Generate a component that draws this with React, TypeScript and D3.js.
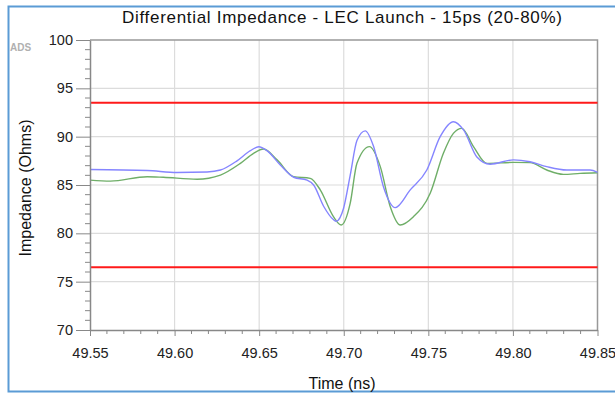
import React, { useEffect, useRef } from "react";
import * as d3 from "d3";

// Differential impedance TDR traces (time in ns, impedance in ohms)
const blueTrace: [number, number][] = [
  [49.55, 86.6], [49.5838, 86.5], [49.6015, 86.3], [49.6192, 86.35], [49.6271, 86.55],
  [49.6369, 87.5], [49.6448, 88.55], [49.6497, 88.95], [49.6546, 88.55], [49.6625, 87.07],
  [49.6704, 85.8], [49.6783, 85.5], [49.6822, 85.0], [49.6881, 82.8], [49.694, 81.4],
  [49.6955, 81.25], [49.6999, 82.6], [49.7038, 86.0], [49.7078, 89.6], [49.7127, 90.6],
  [49.7176, 89.0], [49.7235, 84.8], [49.7304, 82.66], [49.7393, 84.5], [49.7491, 86.55],
  [49.757, 90.0], [49.7648, 91.55], [49.7708, 90.7], [49.7787, 87.9], [49.7865, 87.15],
  [49.8003, 87.6], [49.8101, 87.4], [49.82, 86.9], [49.8318, 86.55], [49.8456, 86.55],
  [49.85, 86.3],
];

const greenTrace: [number, number][] = [
  [49.55, 85.5], [49.5621, 85.4], [49.5838, 85.86], [49.5934, 85.8], [49.6133, 85.6],
  [49.6271, 86.03], [49.6389, 87.24], [49.6467, 88.28], [49.6526, 88.72], [49.6606, 87.6],
  [49.6704, 85.86], [49.6802, 85.69], [49.6861, 84.5], [49.694, 81.7], [49.6985, 80.86],
  [49.7038, 83.1], [49.7078, 87.24], [49.7152, 88.97], [49.7216, 86.9], [49.7275, 82.76],
  [49.7334, 80.86], [49.7412, 81.72], [49.7511, 84.14], [49.7589, 88.28], [49.7648, 90.34],
  [49.7698, 90.86], [49.7767, 88.97], [49.7846, 87.24], [49.8003, 87.34], [49.8101, 87.31],
  [49.82, 86.55], [49.8298, 86.1], [49.8397, 86.2], [49.85, 86.27],
];

// Impedance tolerance limits
const limits = [93.5, 76.5];

const xTicks = [49.55, 49.6, 49.65, 49.7, 49.75, 49.8, 49.85];
const yTicks = [70, 75, 80, 85, 90, 95, 100];

const W = 615;
const H = 395;
const margin = { left: 90, right: 17.5, top: 40, bottom: 65 };

export default function App() {
  const ref = useRef<SVGSVGElement>(null);

  useEffect(() => {
    const svg = d3.select(ref.current);
    svg.selectAll("*").remove();
    const font = "'Liberation Sans', Arial, sans-serif";

    const x = d3.scaleLinear().domain([49.55, 49.85]).range([margin.left, W - margin.right]);
    const y = d3.scaleLinear().domain([70, 100]).range([H - margin.bottom, margin.top]);

    svg.append("rect").attr("width", W).attr("height", H).attr("fill", "#fff");

    // outer frame
    svg.append("path")
      .attr("d", `M${W + 5},6.5 H8.5 V391.5 H${W + 5}`)
      .attr("fill", "none")
      .attr("stroke", "#5b9bd5")
      .attr("stroke-width", 2);

    // grid
    const grid = svg.append("g").attr("stroke", "#dcdcdc").attr("stroke-width", 1.2);
    xTicks.slice(1, -1).forEach((t) => {
      grid.append("line").attr("x1", x(t)).attr("x2", x(t)).attr("y1", y(70)).attr("y2", y(100));
    });
    yTicks.slice(1, -1).forEach((v) => {
      grid.append("line").attr("x1", x(49.55)).attr("x2", x(49.85)).attr("y1", y(v)).attr("y2", y(v));
    });

    // plot border (top/right)
    svg.append("path")
      .attr("d", `M${x(49.55)},${y(100)} H${x(49.85)} V${y(70)}`)
      .attr("fill", "none")
      .attr("stroke", "#999")
      .attr("stroke-width", 1.5);

    // limit lines
    limits.forEach((v) => {
      svg.append("line")
        .attr("x1", x(49.55)).attr("x2", x(49.85))
        .attr("y1", y(v)).attr("y2", y(v))
        .attr("stroke", "#ff1a1a").attr("stroke-width", 2);
    });

    const line = d3.line<[number, number]>()
      .x((d) => x(d[0]))
      .y((d) => y(d[1]))
      .curve(d3.curveMonotoneX);

    svg.append("path").datum(greenTrace).attr("d", line)
      .attr("fill", "none").attr("stroke", "#6fae68").attr("stroke-width", 1.4);
    svg.append("path").datum(blueTrace).attr("d", line)
      .attr("fill", "none").attr("stroke", "#8585ff").attr("stroke-width", 1.4);

    // y axis
    const yMinor = d3.range(70, 100.001, 1).filter((v) => v % 5 !== 0);
    const yAxis = svg.append("g").attr("transform", `translate(${x(49.55)},0)`);
    yAxis.call(
      d3.axisLeft(y).tickValues(yTicks).tickSize(14).tickSizeOuter(0).tickPadding(3)
    );
    yMinor.forEach((v) => {
      yAxis.append("line").attr("x1", -5).attr("x2", 0).attr("y1", y(v)).attr("y2", y(v)).attr("stroke", "#888");
    });

    // x axis
    const xMinor = d3.range(0, 31).map((i) => 49.55 + i * 0.01).filter((_, i) => i % 5 !== 0);
    const xAxis = svg.append("g").attr("transform", `translate(0,${y(70)})`);
    xAxis.call(
      d3.axisBottom(x).tickValues(xTicks).tickFormat(d3.format(".2f")).tickSize(6).tickSizeOuter(0).tickPadding(12)
    );
    xMinor.forEach((t) => {
      xAxis.append("line").attr("x1", x(t)).attr("x2", x(t)).attr("y1", 0).attr("y2", 4).attr("stroke", "#888");
    });

    [yAxis, xAxis].forEach((g) => {
      g.select(".domain").attr("stroke", "#888").attr("stroke-width", 1.5);
      g.selectAll(".tick line").attr("stroke", "#888");
      g.selectAll("text").attr("font-family", font).attr("fill", "#222");
    });
    yAxis.selectAll("text").attr("font-size", 14.5);
    xAxis.selectAll("text").attr("font-size", 14.5);

    // title & labels
    svg.append("text")
      .attr("x", 342).attr("y", 23).attr("text-anchor", "middle")
      .attr("font-family", font).attr("font-size", 17).attr("fill", "#111")
      .attr("textLength", 440).attr("lengthAdjust", "spacing")
      .text("Differential Impedance - LEC Launch - 15ps (20-80%)");

    svg.append("text")
      .attr("x", 342).attr("y", 389).attr("text-anchor", "middle")
      .attr("font-family", font).attr("font-size", 16).attr("fill", "#111")
      .text("Time (ns)");

    svg.append("text")
      .attr("transform", `translate(31,${(y(70) + y(100)) / 2 + 3}) rotate(-90)`)
      .attr("text-anchor", "middle")
      .attr("font-family", font).attr("font-size", 16).attr("fill", "#111")
      .text("Impedance (Ohms)");

    svg.append("text")
      .attr("x", 10).attr("y", 51)
      .attr("font-family", font).attr("font-size", 10).attr("font-weight", "bold").attr("fill", "#b0b0b0")
      .text("ADS");
  }, []);

  return (
    <svg
      ref={ref}
      width={W}
      height={H}
      style={{ position: "absolute", left: 0, top: 0, display: "block" }}
    />
  );
}
